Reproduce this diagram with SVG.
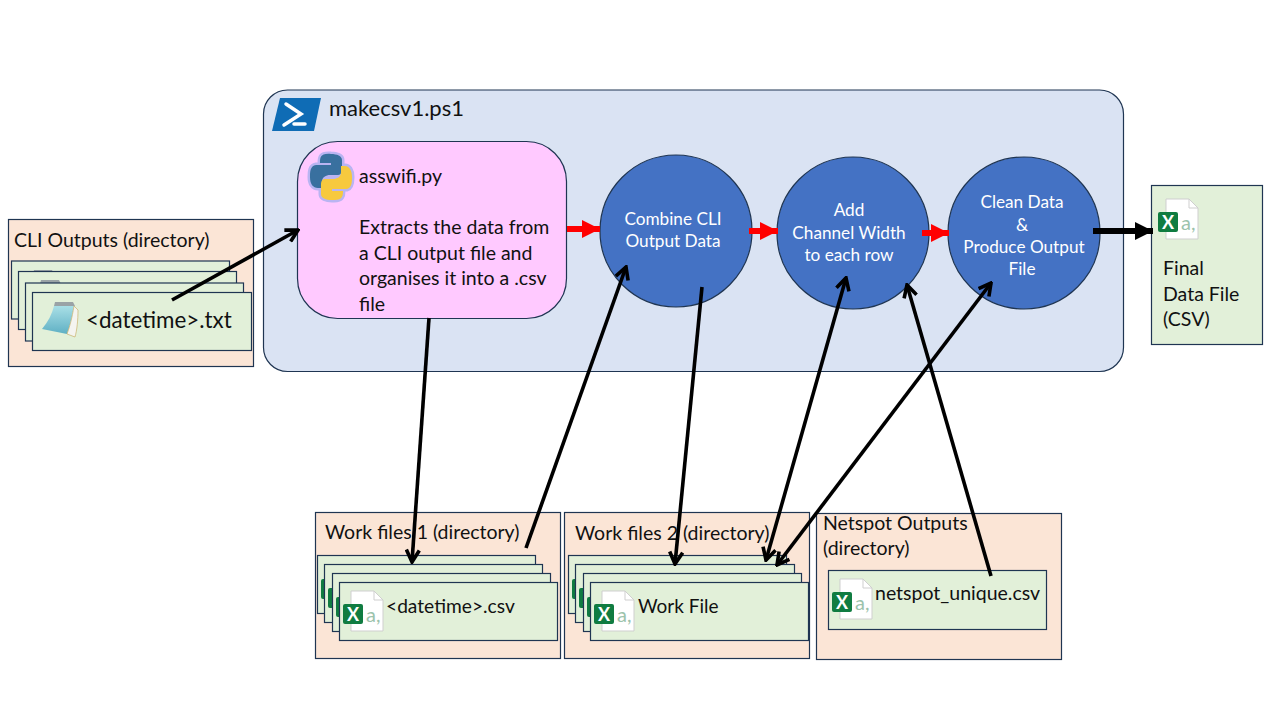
<svg xmlns="http://www.w3.org/2000/svg" xmlns:xlink="http://www.w3.org/1999/xlink" width="1280" height="720" viewBox="0 0 1280 720">
<style>
text{font-family:Lato,"Liberation Sans",sans-serif;fill:#111}
.dir{fill:#fbe5d6;stroke:#1f3552;stroke-width:1.2}
.card{fill:#e2f0d9;stroke:#1f3552;stroke-width:1.2}
.circ{fill:#4472c4;stroke:#1f3552;stroke-width:1.2}
.ct{fill:#fff;font-size:17.2px;text-anchor:middle}
.l{font-size:19.5px}
.a{fill:none;stroke:#000;stroke-width:3.6;marker-end:url(#open)}
.d{marker-start:url(#open)}
.r{stroke:#f00;stroke-width:6;fill:none;marker-end:url(#red)}
</style>
<defs>
<marker id="open" viewBox="0 0 16 16" refX="14" refY="8" markerWidth="16" markerHeight="16" markerUnits="userSpaceOnUse" orient="auto-start-reverse"><path d="M2 1.500L14 8L2 14.500" fill="none" stroke="#000" stroke-width="3.600"/></marker>
<marker id="red" viewBox="0 0 10 10" refX="10" refY="5" markerWidth="18" markerHeight="18" markerUnits="userSpaceOnUse" orient="auto"><path d="M0 0L10 5L0 10z" fill="#f00"/></marker>
<marker id="blk" viewBox="0 0 10 10" refX="10" refY="5" markerWidth="18" markerHeight="18" markerUnits="userSpaceOnUse" orient="auto"><path d="M0 0L10 5L0 10z" fill="#000"/></marker>
<linearGradient id="pad" x1="0" y1="0" x2="0" y2="1"><stop offset="0" stop-color="#a9dfe6"/><stop offset="1" stop-color="#5fb0c4"/></linearGradient>
<g id="xl">
<path d="M8 0H31L40 9V40H8z" fill="#fff" stroke="#cfcfcf" stroke-width="1"/>
<path d="M31 0V9H40" fill="none" stroke="#cfcfcf" stroke-width="1"/>
<rect x="0" y="13" width="20" height="20" rx="2" fill="#107c41"/>
<text x="10" y="29.500" font-size="18" font-weight="700" text-anchor="middle" style="fill:#fff">X</text>
<text x="23" y="31" font-size="20" style="fill:#9cc3ac">a,</text>
</g>
<g id="pad-icon">
<path d="M13 0H31L33 4H12z" fill="#9aa3a6"/>
<path d="M12 4H32C30 16 28 24 25 32L0 27C6 20 10 12 12 4z" fill="url(#pad)"/>
<path d="M32 4L36 8C36 18 35 28 33 35L25 32C28 24 30 16 32 4z" fill="#f4f4f0" stroke="#c9b06a" stroke-width=".7"/>
</g>
</defs>

<g id="makecsv">
<rect x="263.500" y="90" width="860" height="281.500" rx="24" fill="#dae3f3" stroke="#1f3552" stroke-width="1.200"/>
<path d="M280 98H321L314 131H272z" fill="#0f6cb5"/>
<path d="M286 104L301 114L284 125M294 124H305" fill="none" stroke="#fff" stroke-width="3.500" stroke-linecap="round"/>
<text x="329" y="116" font-size="22">makecsv1.ps1</text>
</g>

<g id="asswifi">
<rect x="297.500" y="141.500" width="269" height="177" rx="40" fill="#ffc9ff" stroke="#1f3552" stroke-width="1.200"/>
<g stroke="#b9b4f2" stroke-width="5" stroke-linejoin="round">
<path d="M331 154C320 153 320 158 320 163H331V165H316C310 166 310 172 310 177C310 184 313 188 318 188H322V182C322 177 326 175 330 175H338C342 175 342 171 342 168V160C342 156 337 154 331 154z" fill="#39709f"/>
<path d="M332 200C343 201 343 195 343 191H332V189H347C352 188 352 181 352 177C352 170 349 166 345 166H341V172C341 177 337 179 333 179H325C321 179 321 183 321 186V194C321 198 326 200 332 200z" fill="#f7c93e"/>
</g>
<path d="M331 154C320 153 320 158 320 163H331V165H316C310 166 310 172 310 177C310 184 313 188 318 188H322V182C322 177 326 175 330 175H338C342 175 342 171 342 168V160C342 156 337 154 331 154z" fill="#39709f"/>
<path d="M332 200C343 201 343 195 343 191H332V189H347C352 188 352 181 352 177C352 170 349 166 345 166H341V172C341 177 337 179 333 179H325C321 179 321 183 321 186V194C321 198 326 200 332 200z" fill="#f7c93e"/>
<text x="359" y="183" class="l">asswifi.py</text>
<text x="359" y="234" class="l">Extracts the data from</text>
<text x="359" y="260" class="l">a CLI output file and</text>
<text x="359" y="285" class="l">organises it into a .csv</text>
<text x="359" y="311" class="l">file</text>
</g>

<g id="combine">
<circle cx="676" cy="231" r="76" class="circ"/>
<text x="673" y="225" class="ct">Combine CLI</text>
<text x="673" y="247" class="ct">Output Data</text>
</g>
<g id="channel">
<circle cx="853" cy="233" r="76" class="circ"/>
<text x="849" y="216" class="ct">Add</text>
<text x="849" y="239" class="ct">Channel Width</text>
<text x="849" y="261" class="ct">to each row</text>
</g>
<g id="clean">
<circle cx="1024" cy="233" r="76" class="circ"/>
<text x="1022" y="208" class="ct">Clean Data</text>
<text x="1022" y="231" class="ct">&amp;</text>
<text x="1024" y="253" class="ct">Produce Output</text>
<text x="1022" y="275" class="ct">File</text>
</g>

<g id="final">
<rect x="1151.500" y="185.500" width="111" height="159" class="card"/>
<use xlink:href="#xl" href="#xl" x="1158" y="199"/>
<text x="1163" y="275" class="l">Final</text>
<text x="1163" y="301" class="l">Data File</text>
<text x="1163" y="326" class="l">(CSV)</text>
</g>

<g id="cli">
<rect x="8.500" y="219.500" width="245" height="147" class="dir"/>
<text x="14" y="247" class="l">CLI Outputs (directory)</text>
<rect x="11.500" y="261" width="218" height="58" class="card"/>
<use xlink:href="#pad-icon" href="#pad-icon" x="21" y="270"/>
<rect x="18.500" y="271.500" width="218" height="58" class="card"/>
<use xlink:href="#pad-icon" href="#pad-icon" x="28" y="280"/>
<rect x="25.500" y="283" width="218" height="58" class="card"/>
<rect x="32.500" y="292.500" width="219" height="58" class="card"/>
<use xlink:href="#pad-icon" href="#pad-icon" x="42" y="302"/>
<text x="86" y="328" font-size="22.400">&lt;datetime&gt;.txt</text>
</g>

<g id="work1">
<rect x="315.500" y="512.500" width="245" height="146" class="dir"/>
<text x="325" y="539" class="l">Work files 1 (directory)</text>
<rect x="317.500" y="555.500" width="218" height="58" class="card"/>
<use xlink:href="#xl" href="#xl" x="321" y="566"/>
<rect x="324.500" y="564.500" width="218" height="58" class="card"/>
<use xlink:href="#xl" href="#xl" x="328" y="575"/>
<rect x="332.500" y="573.500" width="218" height="58" class="card"/>
<use xlink:href="#xl" href="#xl" x="336" y="584"/>
<rect x="339.500" y="582.500" width="218" height="58" class="card"/>
<use xlink:href="#xl" href="#xl" x="343" y="591"/>
<text x="386" y="613" font-size="19.200">&lt;datetime&gt;.csv</text>
</g>

<g id="work2">
<rect x="564.500" y="512.500" width="245" height="146" class="dir"/>
<text x="575" y="540" class="l">Work files 2 (directory)</text>
<rect x="568.500" y="555.500" width="218" height="58" class="card"/>
<use xlink:href="#xl" href="#xl" x="572" y="566"/>
<rect x="575.500" y="564.500" width="219" height="58" class="card"/>
<use xlink:href="#xl" href="#xl" x="579" y="575"/>
<rect x="583.500" y="573.500" width="218" height="58" class="card"/>
<use xlink:href="#xl" href="#xl" x="587" y="584"/>
<rect x="590.500" y="582.500" width="218" height="58" class="card"/>
<use xlink:href="#xl" href="#xl" x="594" y="591"/>
<text x="638" y="613" font-size="19">Work File</text>
</g>

<g id="netspot">
<rect x="816.500" y="513.500" width="245" height="146" class="dir"/>
<text x="823" y="530" class="l">Netspot Outputs</text>
<text x="823" y="555" class="l">(directory)</text>
<rect x="828.500" y="570.500" width="218" height="59" class="card"/>
<use xlink:href="#xl" href="#xl" x="832" y="579"/>
<text x="875" y="600" class="l">netspot_unique.csv</text>
</g>

<g id="connectors">
<path class="a" d="M172 300L298 230"/>
<path class="a" d="M429 318L412 562"/>
<path class="a" d="M526 548L626 267"/>
<path class="a" d="M702 287L675 564"/>
<path class="a d" d="M766 560L846 278"/>
<path class="a d" d="M777 565L991 283"/>
<path class="a" d="M991 576L907 285"/>
<path class="r" d="M567 229H600"/>
<path class="r" d="M749 231H778"/>
<path class="r" d="M922 233H949"/>
<path d="M1093 231H1153" fill="none" stroke="#000" stroke-width="6" marker-end="url(#blk)"/>
</g>
</svg>
